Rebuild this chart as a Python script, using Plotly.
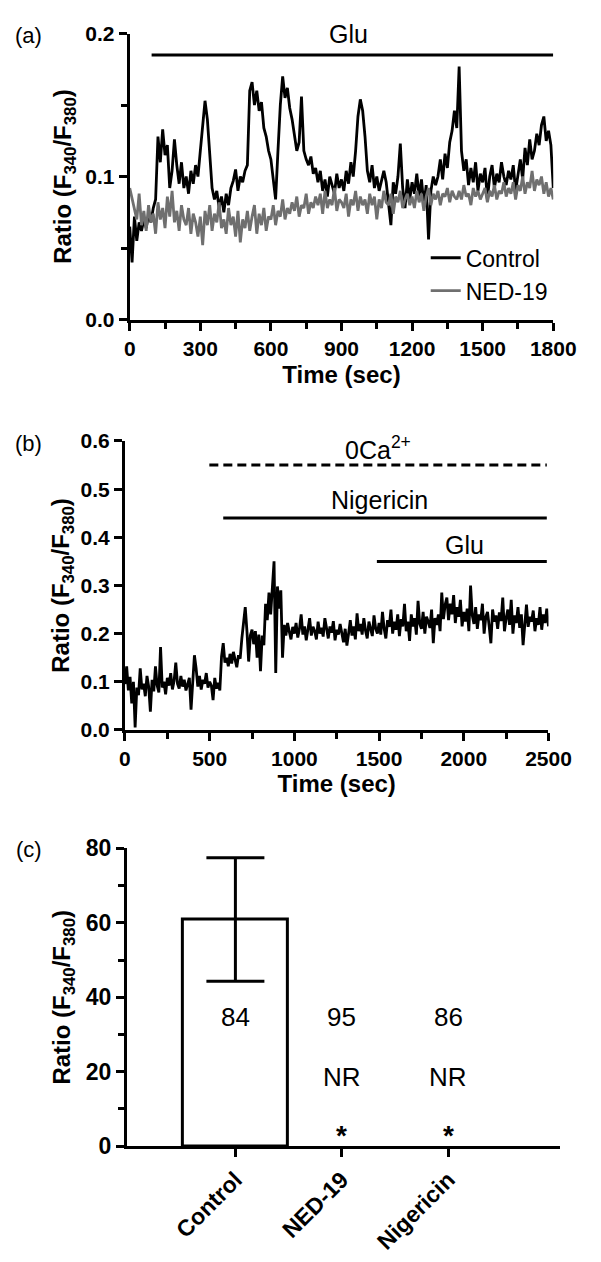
import plotly.graph_objects as go

W, H = 601, 1262
FONT = "Arial, 'Liberation Sans', Helvetica, sans-serif"

# ---------------- Panel (a): Glu-evoked Ca2+ ratio traces ----------------
time_a = list(range(0, 1801, 10))  # sec, one sample every 10 s
# ratio values x 1000
control_a_milli = [
    65, 40, 72, 55, 68, 62, 70, 64, 73, 68,
    78, 84, 128, 110, 133, 115, 122, 92, 104, 126,
    108, 95, 110, 92, 100, 88, 104, 95, 108, 100,
    118, 138, 153, 140, 112, 92, 84, 90, 78, 86,
    75, 88, 80, 92, 97, 105, 90, 100, 96, 104,
    108, 160, 166, 150, 160, 146, 152, 134, 128, 118,
    112, 96, 84, 118, 150, 170, 155, 162, 148, 140,
    128, 118, 124, 156, 118, 112, 108, 114, 102, 106,
    96, 104, 90, 98, 86, 100, 94, 88, 102, 92,
    98, 90, 104, 95, 110, 100, 118, 142, 154, 146,
    128, 104, 96, 108, 92, 100, 90, 98, 104, 96,
    82, 66, 96, 88, 100, 123, 92, 78, 98, 84,
    96, 88, 102, 86, 98, 80, 94, 56, 90, 100,
    94, 100, 112, 98, 116, 106, 124, 132, 146, 134,
    177, 118, 104, 112, 94, 106, 96, 110, 90, 102,
    96, 106, 84, 100, 108, 92, 102, 96, 110, 100,
    94, 104, 98, 108, 90, 102, 112, 98, 120, 108,
    126, 112, 118, 130, 122, 136, 142, 125, 132, 122,
    92,
]
ned19_a_milli = [
    92, 84, 78, 70, 88, 66, 76, 62, 80, 68,
    74, 60, 82, 70, 78, 64, 86, 72, 90, 68,
    76, 62, 80, 70, 66, 78, 60, 74, 68, 58,
    72, 52, 76, 66, 80, 62, 74, 68, 82, 64,
    70, 60, 78, 66, 72, 58, 76, 54, 70, 64,
    76, 62, 72, 80, 60, 74, 66, 78, 62, 72,
    70, 80, 66, 76, 72, 84, 70, 78, 74, 82,
    76, 86, 72, 80, 78, 88, 74, 82, 78, 86,
    80, 88, 74, 90, 78, 84, 80, 92, 76, 84,
    82, 78, 88, 72, 84, 80, 90, 76, 86, 80,
    84, 74, 88, 80, 86, 70, 84, 78, 90, 82,
    80, 88, 74, 86, 82, 90, 78, 84, 88, 80,
    86, 78, 90, 82, 88, 76, 86, 92, 80, 88,
    84, 90, 80, 88, 86, 92, 82, 90, 86, 84,
    90, 84, 94, 86, 88, 80, 92, 86, 90, 84,
    88, 92, 82, 90, 86, 94, 84, 90, 88, 96,
    86, 92, 88, 96, 84, 94, 90, 100, 88, 96,
    92, 104, 90, 98, 94, 100, 88, 96, 86, 92,
    84,
]
control_a = [v / 1000 for v in control_a_milli]
ned19_a = [v / 1000 for v in ned19_a_milli]

a_treat_labels = ["Glu"]
a_treat_start = [93]
a_treat_end = [1800]
a_treat_level = [0.185]
a_text_x = [930]
a_text_y = [0.2]

# ---------------- Panel (b): Nigericin / 0Ca2+ trace ----------------
time_b = list(range(0, 2501, 10))
trace_b_milli = [
    95, 132, 82, 110, 55, 100, 5, 88, 72, 128,
    84, 96, 70, 112, 90, 38, 104, 80, 132, 92,
    78, 172, 88, 100, 74, 108, 92, 118, 84, 102,
    140, 96, 86, 112, 90, 104, 82, 98, 108, 42,
    100, 155, 128, 90, 112, 84, 104, 96, 118, 88,
    100, 92, 62, 108, 86, 98, 82, 152, 180, 140,
    150, 132, 158, 138, 162, 145, 130, 155, 148, 190,
    222, 255, 205, 142, 196, 208, 178, 205, 150, 198,
    122, 196, 176, 262, 228, 285, 240, 295, 350, 118,
    298, 252, 290, 150, 218, 196, 222, 204, 188, 214,
    200, 222, 192, 210, 240, 198, 215, 186, 208, 232,
    196, 214, 205, 188, 225, 200, 212, 194, 232, 206,
    190, 215, 202, 226, 186, 208, 198, 220, 204, 182,
    210, 175, 200, 228, 196, 215, 188, 242, 205, 220,
    198, 232, 206, 190, 225, 212, 195, 238, 210, 200,
    222, 198, 245, 210, 190, 228, 214, 250, 200, 225,
    208, 240, 195, 230, 215, 262, 205, 225, 185, 240,
    215, 232, 198, 268, 220, 210, 245, 200, 235, 225,
    212, 250, 180, 232, 218, 240, 205, 285, 230, 260,
    275, 228, 262, 240, 280, 222, 255, 235, 270, 215,
    245, 225, 252, 205, 300, 238, 220, 255, 210, 240,
    228, 262, 200, 235, 245, 215, 180, 250, 225, 238,
    210, 244, 226, 275, 205, 232, 250, 218, 270, 200,
    238, 222, 255, 212, 240, 176, 228, 260, 214, 235,
    225, 248, 205, 232, 218, 255, 208, 240, 222, 252,
    215,
]
trace_b = [v / 1000 for v in trace_b_milli]

b_treat_labels = ["0Ca<sup>2+</sup>", "Nigericin", "Glu"]
b_treat_start = [498, 580, 1487]
b_treat_end = [2490, 2490, 2490]
b_treat_level = [0.55, 0.44, 0.35]
b_treat_dash = ["9px,5px", "solid", "solid"]
b_text_x = [1494, 1504, 2003]
b_text_y = [0.585, 0.478, 0.383]

# ---------------- Panel (c): summary bar ----------------
categories = ["Control", "NED-19", "Nigericin"]
ratio_mean = [60.9, None, None]   # NR = no response
ratio_err = [16.6, None, None]
n_cells = ["84", "95", "86"]
response = ["", "NR", "NR"]
significance = ["", "*", "*"]

fig = go.Figure()

# (a)
fig.add_trace(go.Scatter(x=time_a, y=control_a, mode="lines", name="Control",
                         line=dict(color="black", width=2.8), xaxis="x", yaxis="y"))
fig.add_trace(go.Scatter(x=time_a, y=ned19_a, mode="lines", name="NED-19",
                         line=dict(color="#6f6f6f", width=2.8), xaxis="x", yaxis="y"))
for lab, s, e, lv in zip(a_treat_labels, a_treat_start, a_treat_end, a_treat_level):
    fig.add_trace(go.Scatter(x=[s, e], y=[lv, lv], mode="lines", showlegend=False,
                             line=dict(color="black", width=3), xaxis="x", yaxis="y",
                             hoverinfo="skip", cliponaxis=False))

# (b)
fig.add_trace(go.Scatter(x=time_b, y=trace_b, mode="lines", showlegend=False,
                         line=dict(color="black", width=2.8), xaxis="x2", yaxis="y2"))
for lab, s, e, lv, d in zip(b_treat_labels, b_treat_start, b_treat_end, b_treat_level, b_treat_dash):
    fig.add_trace(go.Scatter(x=[s, e], y=[lv, lv], mode="lines", showlegend=False,
                             line=dict(color="black", width=3, dash=d), xaxis="x2", yaxis="y2",
                             hoverinfo="skip"))

# (c)
fig.add_trace(go.Bar(x=categories, y=ratio_mean, width=0.98, showlegend=False,
                     marker=dict(color="white", line=dict(color="black", width=3)),
                     error_y=dict(type="data", array=ratio_err, color="black",
                                  thickness=3, width=29),
                     xaxis="x3", yaxis="y3"))

tick_font = dict(family=FONT, size=21, color="black", weight="bold")
title_font = dict(family=FONT, size=24, color="black", weight="bold")
ytitle = "Ratio (F<sub>340</sub>/F<sub>380</sub>)"

common = dict(showline=True, linewidth=3, linecolor="black", ticks="outside",
              ticklen=8, tickwidth=3, tickcolor="black", showgrid=False,
              zeroline=False, tickfont=tick_font)

fig.update_layout(
    width=W, height=H, autosize=False,
    margin=dict(l=0, r=0, t=0, b=0),
    paper_bgcolor="white", plot_bgcolor="white",
    font=dict(family=FONT, color="black"),
    xaxis=dict(domain=[130 / W, 575 / W], anchor="y", range=[0, 1800], dtick=300, tick0=0,
               minor=dict(dtick=150, ticks="outside", ticklen=6, tickwidth=3, tickcolor="black"),
               title=dict(text="Time (sec)", font=title_font, standoff=8), **common),
    yaxis=dict(domain=[1 - 313 / H, 1 - 21 / H], anchor="x", range=[0, 0.2], dtick=0.1,
               tickformat=".1f",
               minor=dict(dtick=0.05, ticks="outside", ticklen=6, tickwidth=3, tickcolor="black"),
               title=dict(text=ytitle, font=title_font, standoff=7), **common),
    xaxis2=dict(domain=[125 / W, 570 / W], anchor="y2", range=[0, 2500], dtick=500, tick0=0,
                minor=dict(dtick=250, ticks="outside", ticklen=6, tickwidth=3, tickcolor="black"),
                title=dict(text="Time (sec)", font=title_font, standoff=6), **common),
    yaxis2=dict(domain=[1 - 732 / H, 1 - 437 / H], anchor="x2", range=[0, 0.6], dtick=0.1,
                tickformat=".1f",
                title=dict(text=ytitle, font=title_font, standoff=5), **common),
    xaxis3=dict(domain=[127 / W, 582 / W], anchor="y3", type="category",
                range=[-1.02, 3.05], tickangle=-45, **common),
    yaxis3=dict(domain=[1 - 1157 / H, 1 - 853 / H], anchor="x3", range=[0, 80], dtick=20,
                minor=dict(dtick=10, ticks="outside", ticklen=6, tickwidth=3, tickcolor="black"),
                title=dict(text=ytitle, font=title_font, standoff=9), **common),
    legend=dict(x=441 / W, xanchor="left", y=1 - 228 / H, yanchor="top",
                font=dict(family=FONT, size=23, color="black"),
                bgcolor="rgba(0,0,0,0)", borderwidth=0),
    showlegend=True,
    bargap=0,
)
fig.update_xaxes(selector=dict(anchor="y3"), tickfont=dict(family=FONT, size=23, color="black", weight="bold"))
fig.update_yaxes(selector=dict(anchor="x3"), tickfont=dict(family=FONT, size=23, color="black", weight="bold"))

ann = []
# panel labels
for lab, py in zip(["(a)", "(b)", "(c)"], [23, 440, 854]):
    ann.append(dict(text=lab, x=24 / W, y=1 - py / H, xref="paper", yref="paper",
                    xanchor="center", yanchor="middle", showarrow=False,
                    font=dict(family=FONT, size=22, color="black")))
# treatment labels
for lab, tx, ty in zip(a_treat_labels, a_text_x, a_text_y):
    ann.append(dict(text=lab, x=tx, y=ty, xref="x", yref="y", showarrow=False,
                    xanchor="center", yanchor="middle",
                    font=dict(family=FONT, size=25, color="black")))
for lab, tx, ty in zip(b_treat_labels, b_text_x, b_text_y):
    ann.append(dict(text=lab, x=tx, y=ty, xref="x2", yref="y2", showarrow=False,
                    xanchor="center", yanchor="middle",
                    font=dict(family=FONT, size=25, color="black")))
# panel (c) texts
for cat, n, r, s in zip(categories, n_cells, response, significance):
    ann.append(dict(text=n, x=cat, y=34.7, xref="x3", yref="y3", showarrow=False,
                    yanchor="middle", font=dict(family=FONT, size=26, color="black")))
    if r:
        ann.append(dict(text=r, x=cat, y=18.7, xref="x3", yref="y3", showarrow=False,
                        yanchor="middle", font=dict(family=FONT, size=26, color="black")))
    if s:
        ann.append(dict(text="<b>" + s + "</b>", x=cat, y=2.8, xref="x3", yref="y3", showarrow=False,
                        yanchor="middle", font=dict(family=FONT, size=28, color="black")))
fig.update_layout(annotations=ann)

fig.write_html("out.html", config={"displayModeBar": False},
               post_script="document.body.style.margin='0px';")
